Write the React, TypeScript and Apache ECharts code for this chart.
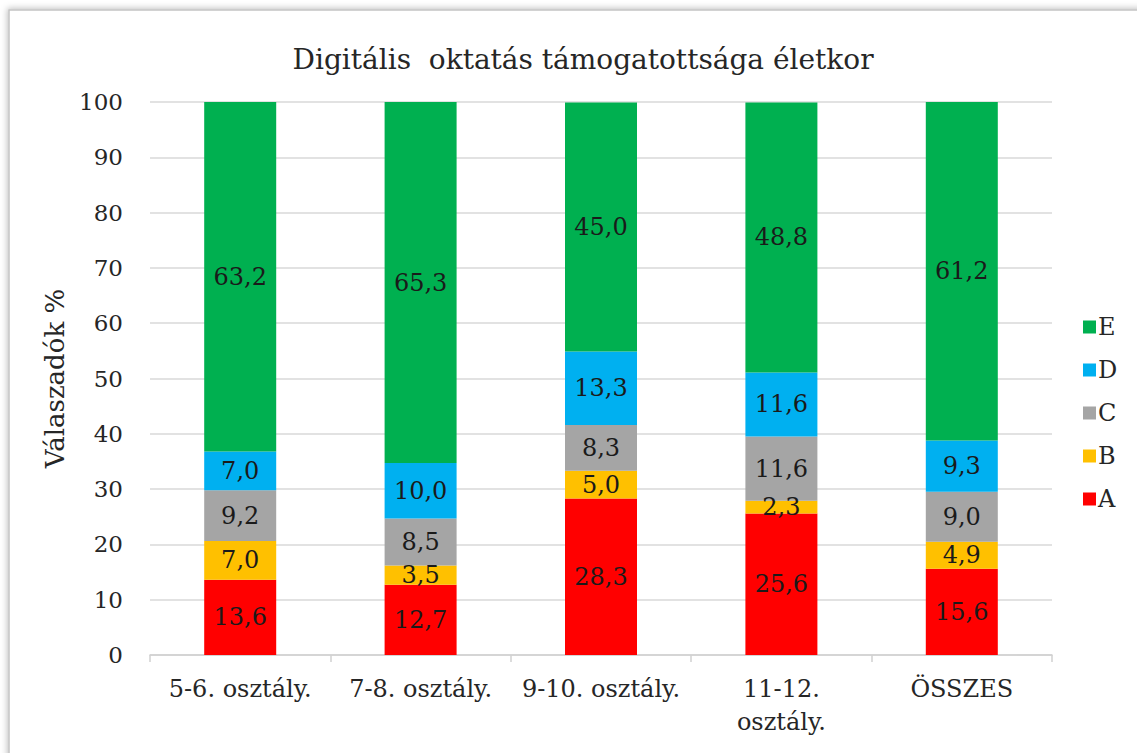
import React, { useEffect, useRef } from "react";
import * as echarts from "echarts";

const categories = ["5-6. osztály.", "7-8. osztály.", "9-10. osztály.", "11-12.\nosztály.", "ÖSSZES"];
const seriesNames = ["A", "B", "C", "D", "E"];
const valuesA = [13.6, 12.7, 28.3, 25.6, 15.6];
const valuesB = [7.0, 3.5, 5.0, 2.3, 4.9];
const valuesC = [9.2, 8.5, 8.3, 11.6, 9.0];
const valuesD = [7.0, 10.0, 13.3, 11.6, 9.3];
const valuesE = [63.2, 65.3, 45.0, 48.8, 61.2];
const colors = ["#FF0000", "#FFC000", "#A5A5A5", "#00B0F0", "#00B050"];

const FONT = "DejaVu Serif";

export default function App() {
  const ref = useRef<HTMLDivElement>(null);
  useEffect(() => {
    if (!ref.current) return;
    const chart = echarts.init(ref.current, null, { renderer: "svg" });
    const data = [valuesA, valuesB, valuesC, valuesD, valuesE];
    chart.setOption({
      animation: false,
      backgroundColor: "#ffffff",
      textStyle: { fontFamily: FONT },
      graphic: [
        {
          type: "rect",
          shape: { x: 9, y: 10, width: 1300, height: 900 },
          style: {
            fill: "#ffffff",
            stroke: "#c4c4c4",
            lineWidth: 1.5,
            shadowBlur: 6,
            shadowColor: "rgba(0,0,0,0.25)",
            shadowOffsetX: -1,
            shadowOffsetY: -1,
          },
          z: -10,
          silent: true,
        },
      ],
      title: {
        text: "Digitális  oktatás támogatottsága életkor",
        left: 578,
        textAlign: "center",
        top: 40,
        textStyle: { fontFamily: FONT, fontSize: 28, fontWeight: "normal", color: "#262626" },
      },
      legend: {
        orient: "vertical",
        left: 1078,
        top: 310,
        itemWidth: 13,
        itemHeight: 13,
        itemGap: 19,
        icon: "rect",
        data: ["E", "D", "C", "B", "A"],
        textStyle: { fontFamily: FONT, fontSize: 24, color: "#262626", padding: [0, 0, 0, -3] },
      },
      grid: { left: 150, right: 85, top: 102, bottom: 98, containLabel: false },
      xAxis: {
        type: "category",
        data: categories,
        axisLine: { lineStyle: { color: "#d0d0d0", width: 1.5 } },
        axisTick: { show: true, length: 7, lineStyle: { color: "#d0d0d0", width: 1.5 } },
        axisLabel: {
          fontFamily: FONT,
          fontSize: 24,
          color: "#262626",
          margin: 17,
          lineHeight: 33,
          interval: 0,
        },
      },
      yAxis: {
        type: "value",
        min: 0,
        max: 100,
        interval: 10,
        name: "Válaszadók %",
        nameLocation: "middle",
        nameGap: 80,
        nameRotate: 90,
        nameTextStyle: { fontFamily: FONT, fontSize: 26, color: "#262626" },
        axisLine: { show: false },
        axisTick: { show: false },
        splitLine: { lineStyle: { color: "#d9d9d9", width: 1.5 } },
        axisLabel: { fontFamily: FONT, fontSize: 23, color: "#262626", margin: 27 },
      },
      series: seriesNames.map((name, i) => ({
        name,
        type: "bar",
        stack: "total",
        barWidth: 72,
        itemStyle: { color: colors[i] },
        label: {
          show: true,
          position: "inside",
          fontFamily: FONT,
          fontSize: 24,
          color: "#1a1a1a",
          formatter: (p: any) => Number(p.value).toFixed(1).replace(".", ","),
        },
        data: data[i],
      })),
    });
    return () => chart.dispose();
  }, []);
  return (
    <div
      ref={ref}
      style={{ position: "fixed", left: 0, top: 0, width: 1137, height: 753 }}
    />
  );
}
